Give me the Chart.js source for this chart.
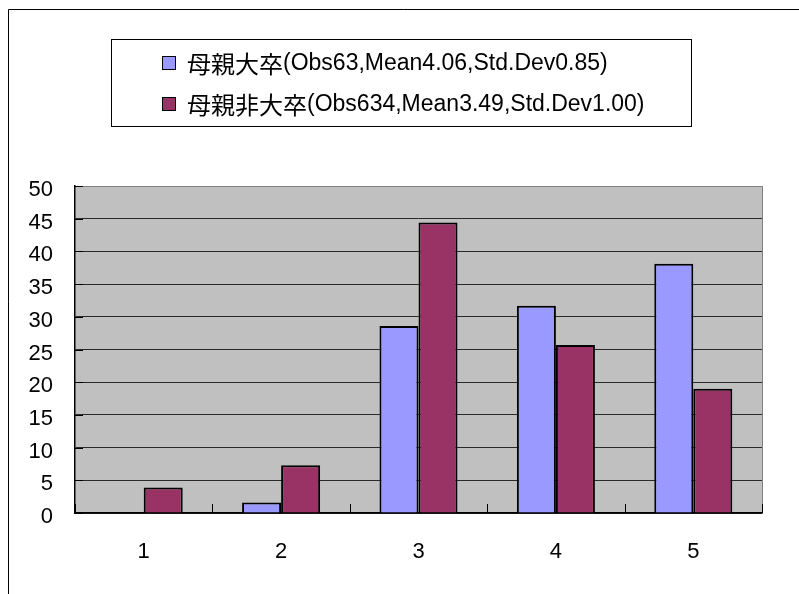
<!DOCTYPE html>
<html>
<head>
<meta charset="utf-8">
<script src="https://cdn.jsdelivr.net/npm/chart.js@4/dist/chart.umd.min.js"></script>
<style>
  html, body { margin: 0; padding: 0; background: #fff; }
  #wrap { width: 799px; height: 594px; position: relative; }
</style>
</head>
<body>
<div id="wrap"><canvas id="c" width="799" height="594"></canvas></div>
<script>
// Answer categories (1-5) and the share (%) of each group giving that answer
const categories = ['1', '2', '3', '4', '5'];
const seriesNames = [
  '母親大卒(Obs63,Mean4.06,Std.Dev0.85)',
  '母親非大卒(Obs634,Mean3.49,Std.Dev1.00)'
];
const motherCollege = [0, 1.6, 28.6, 31.7, 38.1];
const motherNonCollege = [3.9, 7.3, 44.4, 25.7, 19.0];
const yMin = 0, yMax = 50, yStep = 5;

const FONT = "'Liberation Sans', Arial, 'Noto Sans CJK JP', sans-serif";
const CJK_FONT = "'Noto Sans CJK JP', sans-serif";
const colors = ['#9999FF', '#993366'];

// Frame, plot background, plot border and small tick marks
const decor = {
  id: 'decor',
  beforeDraw(chart) {
    const { ctx, chartArea: a } = chart;
    ctx.save();
    ctx.fillStyle = '#fff';
    ctx.fillRect(0, 0, chart.width, chart.height);
    ctx.strokeStyle = '#000';
    ctx.lineWidth = 1;
    ctx.beginPath();
    ctx.moveTo(8.5, chart.height);
    ctx.lineTo(8.5, 9.5);
    ctx.lineTo(chart.width, 9.5);
    ctx.stroke();
    ctx.fillStyle = '#C0C0C0';
    ctx.fillRect(a.left, a.top, a.right - a.left, a.bottom - a.top);
    ctx.restore();
  },
  afterDatasetsDraw(chart) {
    const { ctx, chartArea: a, scales } = chart;
    ctx.save();
    ctx.strokeStyle = '#808080';
    ctx.lineWidth = 1;
    ctx.beginPath();
    ctx.moveTo(a.right + 0.5, a.top);
    ctx.lineTo(a.right + 0.5, a.bottom);
    ctx.stroke();
    // category separators on the category axis
    ctx.strokeStyle = '#000';
    const x = scales.x;
    ctx.beginPath();
    for (let i = 0; i <= categories.length; i++) {
      let px;
      if (i === 0) px = a.left;
      else if (i === categories.length) px = a.right;
      else px = (x.getPixelForTick(i - 1) + x.getPixelForTick(i)) / 2;
      px = Math.round(px) + 0.5;
      ctx.moveTo(px, a.bottom);
      ctx.lineTo(px, a.bottom - 9);
    }
    // value-axis tick marks
    const y = scales.y;
    for (let v = yMin; v <= yMax; v += yStep) {
      const py = Math.round(y.getPixelForValue(v)) + 0.5;
      ctx.moveTo(a.left, py);
      ctx.lineTo(a.left + 8, py);
    }
    ctx.stroke();
    ctx.restore();
  },
  afterDraw(chart) {
    // boxed legend
    const { ctx } = chart;
    ctx.save();
    ctx.fillStyle = '#fff';
    ctx.fillRect(111.5, 39.5, 580, 87);
    ctx.strokeStyle = '#000';
    ctx.lineWidth = 1;
    ctx.strokeRect(111.5, 39.5, 580, 87);
    ctx.textBaseline = 'middle';
    ctx.textAlign = 'left';
    chart.data.datasets.forEach((ds, i) => {
      const cy = 63 + i * 41;
      ctx.fillStyle = ds.backgroundColor;
      ctx.fillRect(162.5, cy - 6.5, 13, 13);
      ctx.strokeStyle = '#000';
      ctx.strokeRect(162.5, cy - 6.5, 13, 13);
      ctx.fillStyle = '#000';
      // Japanese group name, then the statistics in parentheses
      const cut = ds.label.indexOf('(');
      const name = ds.label.slice(0, cut);
      const stats = ds.label.slice(cut);
      ctx.font = '24px ' + CJK_FONT;
      ctx.fillText(name, 187, cy + 1);
      const w = ctx.measureText(name).width;
      ctx.font = '23px ' + FONT;
      ctx.fillText(stats, 187 + w, cy + 1);
    });
    ctx.restore();
  }
};

new Chart(document.getElementById('c'), {
  type: 'bar',
  data: {
    labels: categories,
    datasets: [
      { label: seriesNames[0], data: motherCollege, backgroundColor: colors[0], borderColor: '#000', borderWidth: 2 },
      { label: seriesNames[1], data: motherNonCollege, backgroundColor: colors[1], borderColor: '#000', borderWidth: 2 }
    ]
  },
  options: {
    responsive: false,
    animation: false,
    devicePixelRatio: 1,
    layout: { padding: { top: 186, right: 37, bottom: 0, left: 0 } },
    plugins: { legend: { display: false }, tooltip: { enabled: false } },
    datasets: { bar: { categoryPercentage: 0.568, barPercentage: 1 } },
    scales: {
      x: {
        grid: { display: false, drawTicks: false },
        border: { display: true, color: '#000', width: 1.5 },
        ticks: { color: '#000', font: { family: FONT, size: 22 }, padding: 26, maxRotation: 0 },
        afterFit(s) { s.height = 81; }
      },
      y: {
        min: yMin, max: yMax,
        grid: {
          drawTicks: false,
          color: c => (c.tick && c.tick.value === yMax) ? '#808080' : '#2a2a2a',
          lineWidth: 1
        },
        border: { display: true, color: '#000', width: 1.5 },
        ticks: { stepSize: yStep, color: '#000', font: { family: FONT, size: 22 }, padding: 22, labelOffset: 4 },
        afterFit(s) { s.width = 75; }
      }
    }
  },
  plugins: [decor]
});
</script>
</body>
</html>
